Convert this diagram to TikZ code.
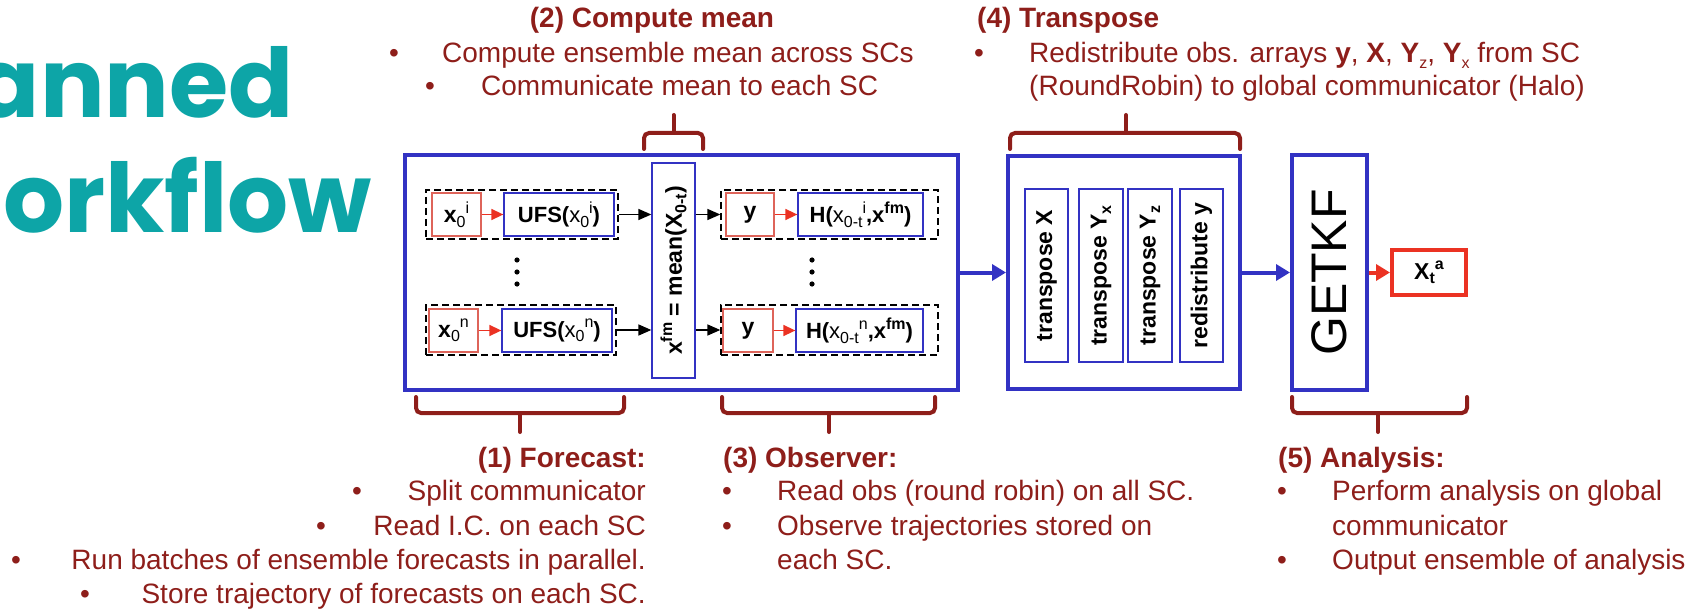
\documentclass[tikz,border=0pt]{standalone}
\usepackage{fontspec}
\setmainfont{Liberation Sans}
\newfontfamily\titlefont{Poppins}
\usetikzlibrary{arrows.meta,calc}
\definecolor{dred}{RGB}{142,30,26}
\definecolor{teal2}{RGB}{13,165,167}
\definecolor{bblue}{RGB}{50,50,195}
\definecolor{lred}{RGB}{222,100,90}
\definecolor{rred}{RGB}{235,50,35}
\newcommand\myup[1]{\raisebox{0.42em}{\fontsize{16}{16}\selectfont #1}}
\newcommand\mydn[1]{\raisebox{-0.2em}{\fontsize{16}{16}\selectfont #1}}
\tikzset{
  big/.style={font=\fontsize{28}{34}\selectfont, text=dred, inner sep=0pt},
  hd/.style={text=dred, inner sep=0pt, font=\fontsize{28}{34}\selectfont\bfseries},
  bul/.style={big, anchor=base},
  thickblue/.style={draw=bblue, line width=4pt, inner sep=0pt},
  inblue/.style={draw=bblue, line width=1.3pt, inner sep=0pt, font=\fontsize{22}{26}\selectfont},
  inred/.style={draw=lred, line width=1.3pt, inner sep=0pt, font=\fontsize{23}{26}\selectfont},
  dbox/.style={draw=black, line width=1.3pt, dash pattern=on 7pt off 4pt, inner sep=0pt},
  rtext/.style={rotate=90, inner sep=0pt, font=\fontsize{23}{26}\selectfont\bfseries},
  brace/.style={draw=dred, line width=4pt, rounded corners=5pt, line cap=round},
  barrow/.style={draw=black, line width=1.5pt, -{Triangle[length=13pt,width=11pt]}},
  rarrow/.style={draw=rred, line width=1.5pt, -{Triangle[length=12pt,width=11pt]}},
  bigblue/.style={draw=bblue, line width=4pt, -{Triangle[length=14pt,width=16pt]}},
  bigred/.style={draw=rred, line width=4pt, -{Triangle[length=14pt,width=16pt]}},
}
\begin{document}
\begin{tikzpicture}[x=1pt,y=-1pt]
\useasboundingbox (0,0) rectangle (1704,612);
% title
\node[anchor=base east, inner sep=0pt, text=teal2, font=\titlefont\fontsize{96}{96}\selectfont\bfseries] (tA) at (294,118) {anned};
\node[anchor=base east, inner sep=0pt, text=teal2, font=\titlefont\fontsize{96}{96}\selectfont\bfseries] (tB) at (372,233) {orkflow};

% main box
\node[thickblue, minimum width=553pt, minimum height=235pt] (main) at (681.5,272.5) {};
\node[dbox, minimum width=192pt, minimum height=49pt] (dTL) at (522,214.5) {};
\node[dbox, minimum width=190pt, minimum height=50pt] (dBL) at (521,330) {};
\node[dbox, minimum width=217pt, minimum height=49pt] (dTR) at (829.5,214.5) {};
\node[dbox, minimum width=217pt, minimum height=50pt] (dBR) at (829.5,330) {};

\node[inred, minimum width=49pt, minimum height=43pt] (x0i) at (456.5,214.5) {\textbf{x}\mydn{0}\myup{i}};
\node[inblue, minimum width=110pt, minimum height=43pt] (ufsi) at (559,214.5) {\textbf{UFS(}x\mydn{0}\myup{i}\textbf{)}};
\node[inred, minimum width=49pt, minimum height=43pt] (x0n) at (453.5,330.5) {\textbf{x}\mydn{0}\myup{n}};
\node[inblue, minimum width=110pt, minimum height=43pt] (ufsn) at (557,330.5) {\textbf{UFS(}x\mydn{0}\myup{n}\textbf{)}};

\node[inblue, minimum width=43pt, minimum height=215pt] (mean) at (673.5,270.5) {};
\node[rtext] (meanT) at (mean.center) {x\myup{fm} = mean(X\mydn{0-t})};

\node[inred, minimum width=48pt, minimum height=43pt] (yi) at (750,214.5) {\textbf{y}};
\node[inblue, minimum width=125pt, minimum height=43pt] (hi) at (860.5,214.5) {\textbf{H(}x\mydn{0-t}\myup{i}\textbf{,x}\myup{\textbf{fm}}\textbf{)}};
\node[inred, minimum width=50pt, minimum height=43pt] (yn) at (748,330.5) {\textbf{y}};
\node[inblue, minimum width=127pt, minimum height=43pt] (hn) at (859.5,330.5) {\textbf{H(}x\mydn{0-t}\myup{n}\textbf{,x}\myup{\textbf{fm}}\textbf{)}};

\foreach \yy in {260,272,284} {
  \fill (517,\yy) circle (2.6pt);
  \fill (812,\yy) circle (2.6pt);
}

\draw[rarrow] (x0i) -- (ufsi);
\draw[rarrow] (x0n) -- (ufsn);
\draw[rarrow] (yi) -- (hi);
\draw[rarrow] (yn) -- (hn);
\draw[barrow] (dTL.east) -- (dTL.east -| mean.west);
\draw[barrow] (dBL.east) -- (dBL.east -| mean.west);
\draw[barrow] (dTR.west -| mean.east) -- (dTR.west);
\draw[barrow] (dBR.west -| mean.east) -- (dBR.west);

% transpose box
\node[thickblue, minimum width=232pt, minimum height=233pt] (trans) at (1124,272.5) {};
\node[inblue, minimum width=43pt, minimum height=173pt] (t1) at (1046.5,275.5) {};
\node[inblue, minimum width=44pt, minimum height=173pt] (t2) at (1101,275.5) {};
\node[inblue, minimum width=44pt, minimum height=173pt] (t3) at (1150,275.5) {};
\node[inblue, minimum width=43pt, minimum height=173pt] (t4) at (1201.5,275.5) {};
\node[rtext] (t1T) at (t1.center) {transpose X};
\node[rtext] (t2T) at (t2.center) {transpose Y\mydn{x}};
\node[rtext] (t3T) at (t3.center) {transpose Y\mydn{z}};
\node[rtext] (t4T) at (t4.center) {redistribute y};

% GETKF
\node[thickblue, minimum width=75pt, minimum height=235pt] (getkf) at (1329.5,272.5) {};
\node[rotate=90, inner sep=0pt, font=\fontsize{50}{50}\selectfont] (getkfT) at (getkf.center) {GETKF};
\node[draw=rred, line width=4pt, inner sep=0pt, minimum width=74pt, minimum height=45pt, font=\fontsize{23}{26}\selectfont\bfseries] (xta) at (1429,272.5) {X\mydn{t}\myup{a}};

\draw[bigblue] (main.east) -- (trans.west);
\draw[bigblue] (trans.east) -- (getkf.west);
\draw[bigred] (getkf.east) -- (xta.west);

% braces
\draw[brace] (644,149) -- (644,133) -- (703,133) -- (703,149);
\draw[brace] (673.5,133) -- (673.5,115);
\draw[brace] (1010,149) -- (1010,133) -- (1240,133) -- (1240,149);
\draw[brace] (1126,133) -- (1126,115);
\draw[brace] (416,397) -- (416,413) -- (624,413) -- (624,397);
\draw[brace] (520,413) -- (520,432);
\draw[brace] (722,397) -- (722,413) -- (935,413) -- (935,397);
\draw[brace] (829,413) -- (829,432);
\draw[brace] (1292,397) -- (1292,413) -- (1467,413) -- (1467,397);
\draw[brace] (1378,413) -- (1378,432);

% top text (2)
\node[hd, anchor=base] (h2) at (652,28) {(2) Compute mean};
\node[bul] (b21) at (394,63) {•};
\node[big, anchor=base west] (l21) at (442,63) {Compute ensemble mean across SCs};
\node[bul] (b22) at (430,96) {•};
\node[big, anchor=base west] (l22) at (481,96) {Communicate mean to each SC};

% top text (4)
\node[hd, anchor=base west] (h4) at (977,28) {(4) Transpose};
\node[bul] (b41) at (979,63) {•};
\node[big, anchor=base west] (l41) at (1029,63) {Redistribute obs. arrays \textbf{y}, \textbf{X}, \textbf{Y}\mydn{z}, \textbf{Y}\mydn{x} from SC};
\node[big, anchor=base west] (l42) at (1029,96) {(RoundRobin) to global communicator (Halo)};

% bottom text (1)
\node[hd, anchor=base east] (h1) at (646,467) {(1) Forecast:};
\node[bul] (b11) at (357,500) {•};
\node[big, anchor=base east] (l11) at (646,500) {Split communicator};
\node[bul] (b12) at (321,535) {•};
\node[big, anchor=base east] (l12) at (646,535) {Read I.C. on each SC};
\node[bul] (b13) at (16,569) {•};
\node[big, anchor=base east] (l13) at (646,569) {Run batches of ensemble forecasts in parallel.};
\node[bul] (b14) at (85,603) {•};
\node[big, anchor=base east] (l14) at (646,603) {Store trajectory of forecasts on each SC.};

% bottom text (3)
\node[hd, anchor=base west] (h3) at (723,467) {(3) Observer:};
\node[bul] (b31) at (727,500) {•};
\node[big, anchor=base west] (l31) at (777,500) {Read obs (round robin) on all SC.};
\node[bul] (b32) at (727,535) {•};
\node[big, anchor=base west] (l32) at (777,535) {Observe trajectories stored on};
\node[big, anchor=base west] (l33) at (777,569) {each SC.};

% bottom text (5)
\node[hd, anchor=base west] (h5) at (1278,467) {(5) Analysis:};
\node[bul] (b51) at (1282,500) {•};
\node[big, anchor=base west] (l51) at (1332,500) {Perform analysis on global};
\node[big, anchor=base west] (l52) at (1332,535) {communicator};
\node[bul] (b52) at (1282,569) {•};
\node[big, anchor=base west] (l53) at (1332,569) {Output ensemble of analysis};
\end{tikzpicture}
\end{document}
